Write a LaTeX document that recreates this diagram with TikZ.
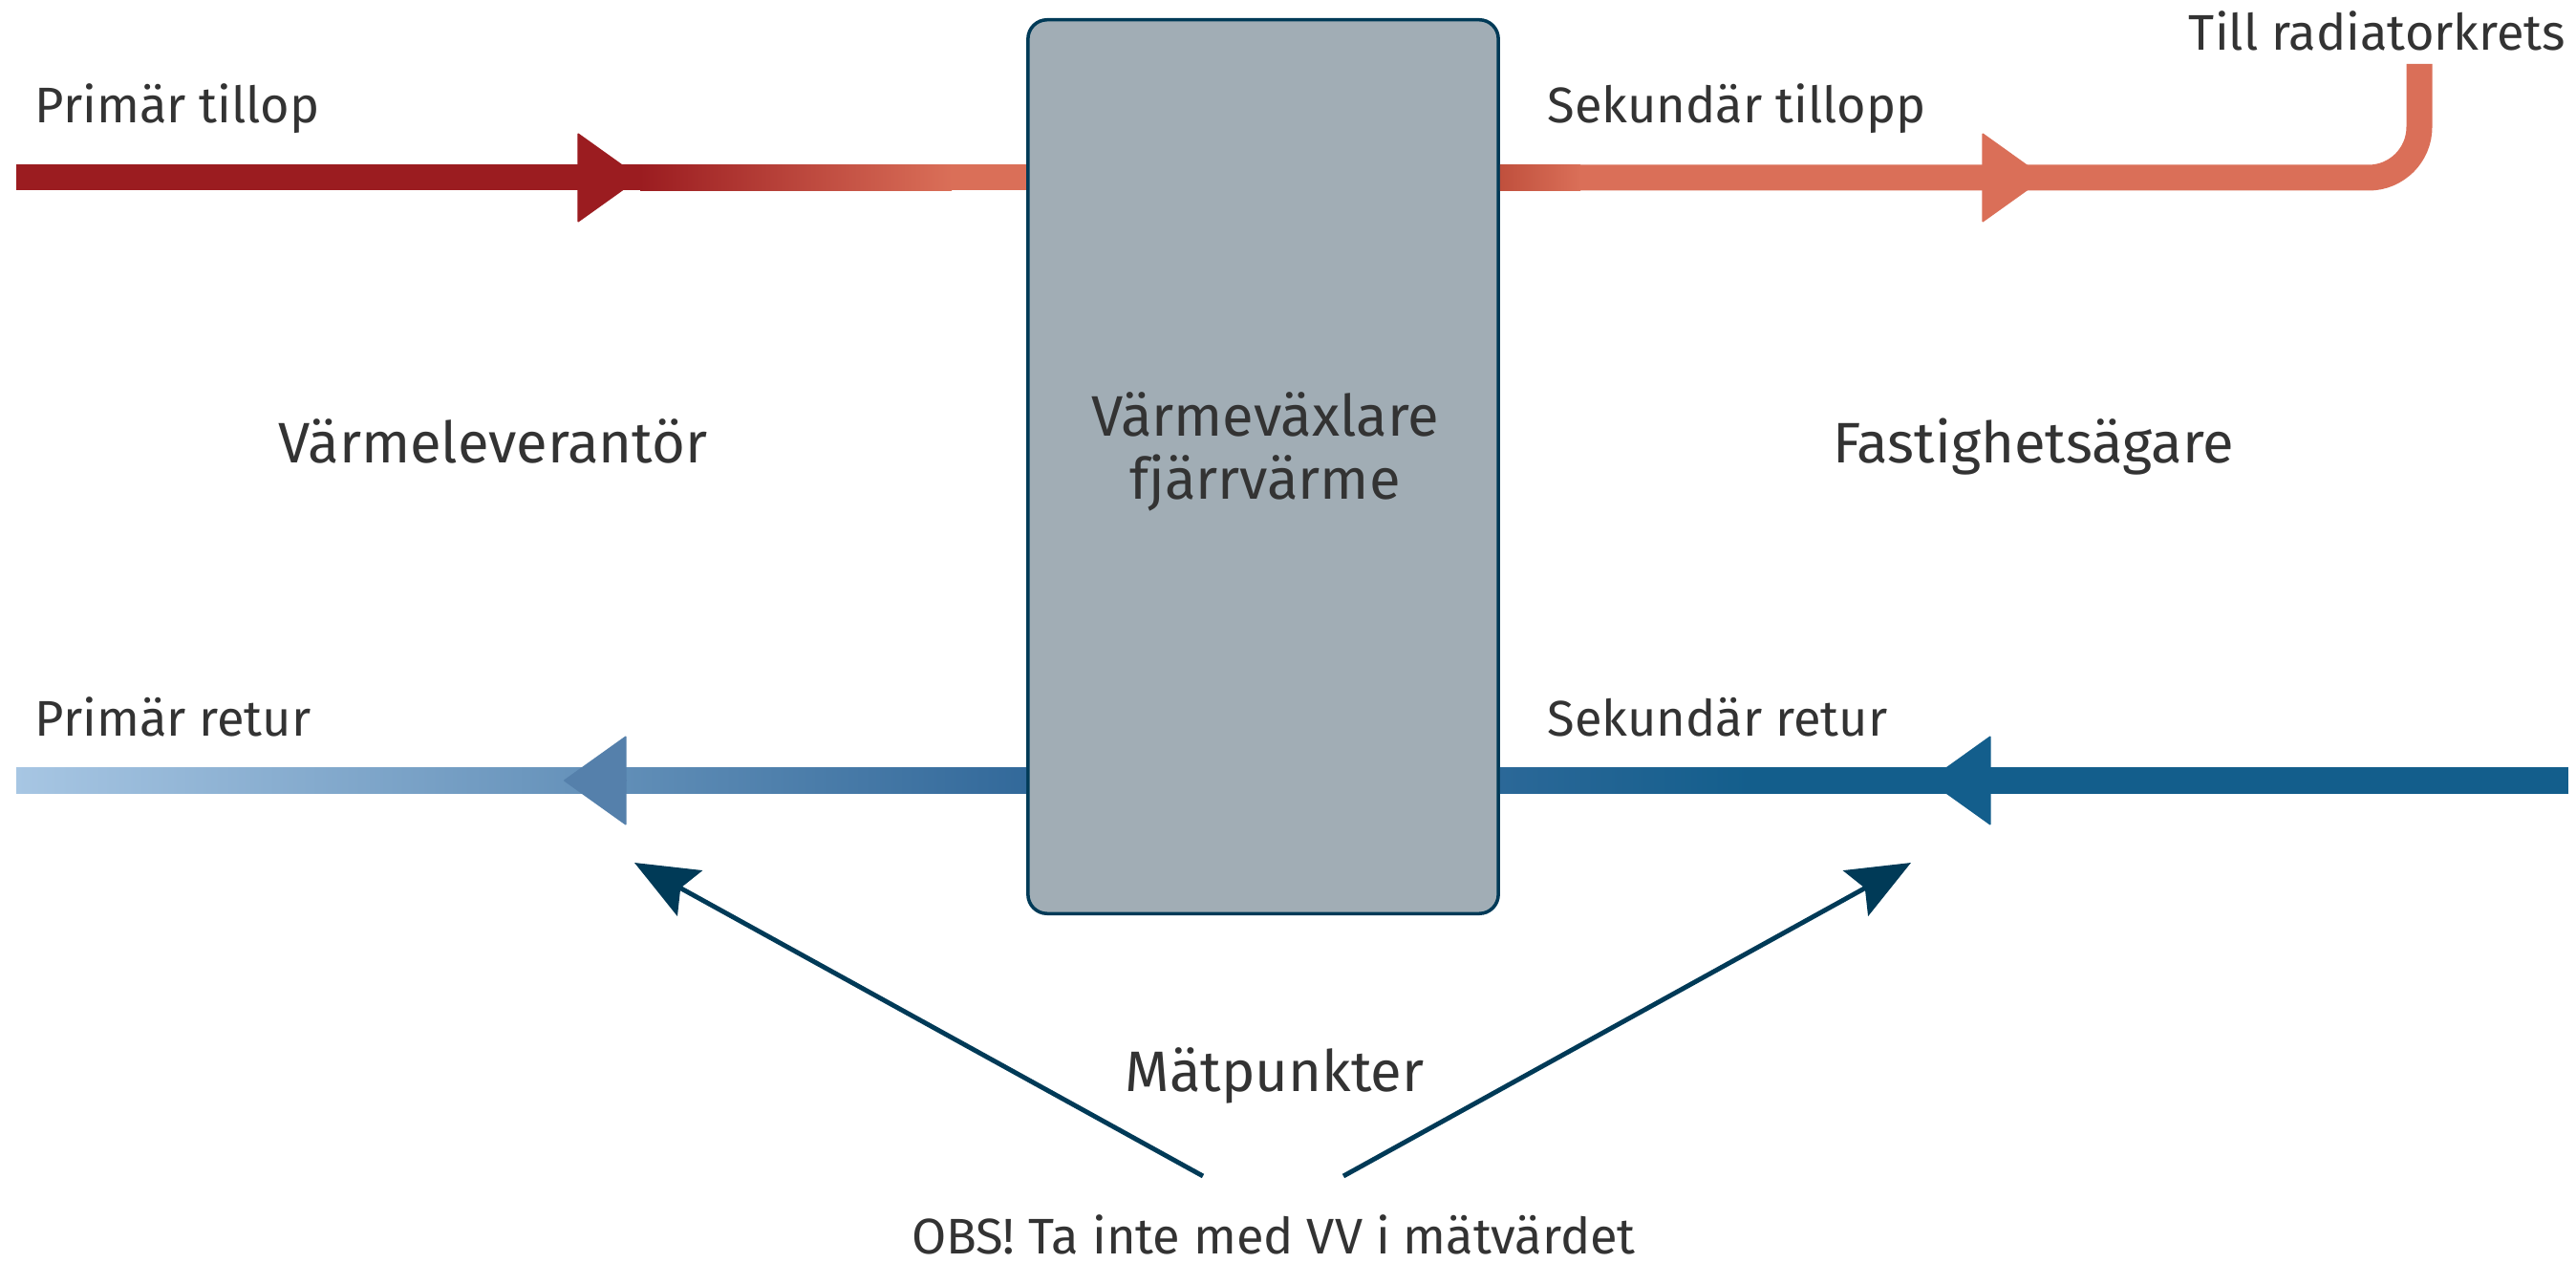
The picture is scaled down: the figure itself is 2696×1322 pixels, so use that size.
\documentclass[tikz,border=0pt]{standalone}
\usepackage{fontspec}
\setmainfont{Fira Sans}
\usetikzlibrary{arrows.meta, positioning, calc}

\definecolor{dkred}{HTML}{9B1C20}
\definecolor{ltorange}{HTML}{DA6F58}
\definecolor{rdorange}{HTML}{C0503D}
\definecolor{ltblue}{HTML}{A7C6E3}
\definecolor{midblue}{HTML}{5580AB}
\definecolor{boxblue}{HTML}{32699A}
\definecolor{nearblue}{HTML}{2B6898}
\definecolor{dkblue}{HTML}{135E8C}
\definecolor{navy}{HTML}{003A57}
\definecolor{boxfill}{HTML}{A1ADB5}
\definecolor{txtgray}{HTML}{333333}

\tikzset{
  pipe/.style={line width=0.27cm},
  flowtip/.style={line width=0.4pt, -{Triangle[length=0.66cm, width=0.94cm, round]}},
  meas/.style={navy, line width=1.4pt, -{Stealth[length=0.66cm, width=0.54cm, inset=0.11cm]}},
  lbl/.style={text=txtgray, inner sep=0pt, font=\fontsize{14.9}{18}\selectfont},
  biglbl/.style={text=txtgray, inner sep=0pt, font=\fontsize{17}{20}\selectfont},
  hxbox/.style={draw=navy, fill=boxfill, line width=1pt, rounded corners=0.2cm,
    minimum width=4.92cm, minimum height=9.35cm, inner sep=0pt}
}

\begin{document}
\begin{tikzpicture}[x=0.01cm, y=-0.01cm]
  \useasboundingbox (0,0) rectangle (2696,1322);

  % heat exchanger
  \node[hxbox] (hx) at (1322,488.5) {};
  \node[biglbl, anchor=base] (hxa) at (1324,457) {Värmeväxlare};
  \node[biglbl, anchor=base] (hxb) at ($(hxa.base)+(0,66)$) {fjärrvärme};

  % primary supply
  \coordinate (ps-in) at (17,186);
  \coordinate (ps-tip) at (670,186);
  \draw[pipe, dkred] (ps-in) -- (ps-tip);
  \shade[left color=dkred, right color=ltorange] (670,172.5) rectangle (996,199.5);
  \draw[pipe, ltorange] (995,186) -- (hx.west |- ps-in);
  \draw[flowtip, dkred, fill=dkred] (604,186) -- (ps-tip);

  % secondary supply
  \coordinate (ss-up) at (2532,67);
  \shade[left color=rdorange, right color=ltorange] (hx.east |- 0,172.5) rectangle (1654,199.5);
  \draw[pipe, ltorange, rounded corners=0.53cm] (1653,186) -- (ss-up |- ps-in) -- (ss-up);
  \draw[flowtip, ltorange, fill=ltorange] (2074,186) -- (2140,186);

  % primary return
  \shade[left color=ltblue, right color=boxblue] (17,803.5) rectangle (hx.west |- 0,830.5);
  \draw[flowtip, midblue, fill=midblue] (656,817) -- (590,817);

  % secondary return
  \coordinate (sr-in) at (2688,817);
  \draw[pipe, dkblue] (sr-in) -- (1834,817);
  \shade[left color=nearblue, right color=dkblue] (hx.east |- 0,803.5) rectangle (1836,830.5);
  \draw[flowtip, dkblue, fill=dkblue] (2084,817) -- (2018,817);

  % labels
  \node[lbl, anchor=base west] (pt) at (36,129) {Primär tillop};
  \node[lbl, anchor=base west] (st) at (1619,129) {Sekundär tillopp};
  \node[lbl, anchor=base east] (rad) at (2686,53) {Till radiatorkrets};
  \node[lbl, anchor=base west] (pr) at (36,771) {Primär retur};
  \node[lbl, anchor=base west] (sr) at (1619,771) {Sekundär retur};
  \node[biglbl, anchor=base] (lev) at (516,485) {Värmeleverantör};
  \node[biglbl, anchor=base] (own) at (2128,485) {Fastighetsägare};
  \node[biglbl, anchor=base] (mp) at (1334,1142) {Mätpunkter};
  \node[lbl, anchor=base] (obs) at (1333,1312) {OBS! Ta inte med VV i mätvärdet};

  % measuring points
  \coordinate (ml-from) at (1259,1231);
  \coordinate (ml-to) at (664,903);
  \coordinate (mr-from) at (1406,1231);
  \coordinate (mr-to) at (2000,903);
  \draw[meas] (ml-from) -- (ml-to);
  \draw[meas] (mr-from) -- (mr-to);
\end{tikzpicture}
\end{document}
